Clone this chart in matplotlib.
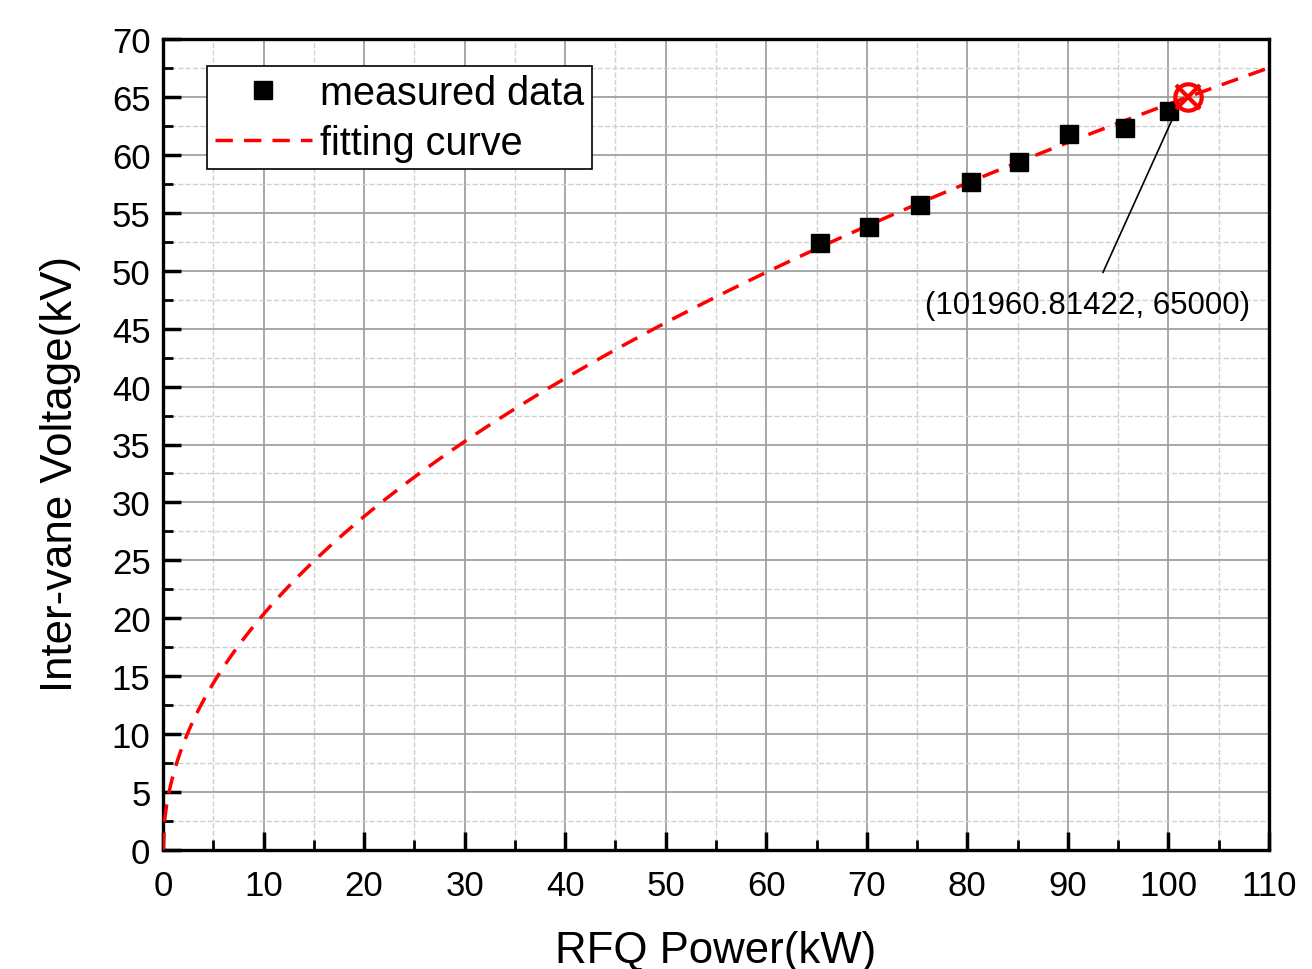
import numpy as np
import matplotlib.pyplot as plt
from matplotlib.ticker import MultipleLocator

plt.rcParams['font.family'] = ['Liberation Sans', 'DejaVu Sans']

# measured data (kW, kV)
power_kw = [65.3, 70.25, 75.3, 80.4, 85.1, 90.1, 95.65, 100.1]
voltage_kv = [52.4, 53.8, 55.7, 57.7, 59.4, 61.8, 62.3, 63.75]

# marked point on the fitting curve (W, V)
mark_w = 101960.81422
mark_v = 65000

# fitting curve V = k*sqrt(P), through the marked point
k = (mark_v / 1000) / np.sqrt(mark_w / 1000)
p_fit = np.linspace(0, 110, 600)
v_fit = k * np.sqrt(p_fit)

fig = plt.figure(figsize=(13.12, 9.7), dpi=100)
ax = fig.add_axes([163 / 1312, 1 - 851 / 970, (1269 - 163) / 1312, (851 - 40) / 970])

ax.plot(p_fit, v_fit, color='red', linestyle=(0, (5, 3.2)), linewidth=2.5,
        label='fitting curve', zorder=3)
ax.plot(power_kw, voltage_kv, linestyle='none', marker='s', markersize=13,
        color='black', label='measured data', zorder=4)

# circled cross at the 65 kV point
mx = mark_w / 1000
my = mark_v / 1000
ax.plot(mx, my, marker='o', markersize=19, markerfacecolor='none',
        markeredgecolor='red', markeredgewidth=3, zorder=5, clip_on=False)
ax.plot(mx, my, marker='x', markersize=17, markeredgecolor='red',
        markeredgewidth=3, zorder=5, clip_on=False)
ax.annotate('(101960.81422, 65000)', xy=(mx - 1.2, my - 1.2), xytext=(92, 47.0),
            fontsize=22.5, ha='center', va='center',
            arrowprops=dict(arrowstyle='-', color='black', lw=1.2,
                            shrinkA=12, shrinkB=0))

ax.set_xlim(0, 110)
ax.set_ylim(0, 70)
ax.xaxis.set_major_locator(MultipleLocator(10))
ax.xaxis.set_minor_locator(MultipleLocator(5))
ax.yaxis.set_major_locator(MultipleLocator(5))
ax.yaxis.set_minor_locator(MultipleLocator(2.5))

ax.grid(which='major', color='#a0a0a0', linestyle='-', linewidth=1.3)
ax.grid(which='minor', color='#d0d0d0', linestyle='--', linewidth=1.0)
ax.set_axisbelow(True)

ax.tick_params(which='major', direction='in', length=13, width=2.5,
               labelsize=25, pad=14)
ax.tick_params(which='minor', direction='in', length=7, width=2)
ax.tick_params(axis='y', pad=9)
for s in ax.spines.values():
    s.set_linewidth(2.4)

ax.set_xlabel('RFQ Power(kW)', fontsize=31.5, labelpad=20)
ax.set_ylabel('Inter-vane Voltage(kV)', fontsize=31.5)
ax.yaxis.set_label_coords(-0.074, 0.465)

handles, labels = ax.get_legend_handles_labels()
leg = ax.legend(handles[::-1], labels[::-1], loc='upper left',
                bbox_to_anchor=(0.0398, 0.967), fontsize=28.5, frameon=True,
                fancybox=False, edgecolor='black', framealpha=1,
                handlelength=2.45, handletextpad=0.2, borderpad=0.2,
                labelspacing=0.3, borderaxespad=0)
leg.get_frame().set_linewidth(1.2)

fig.savefig('out.png', dpi=100)
